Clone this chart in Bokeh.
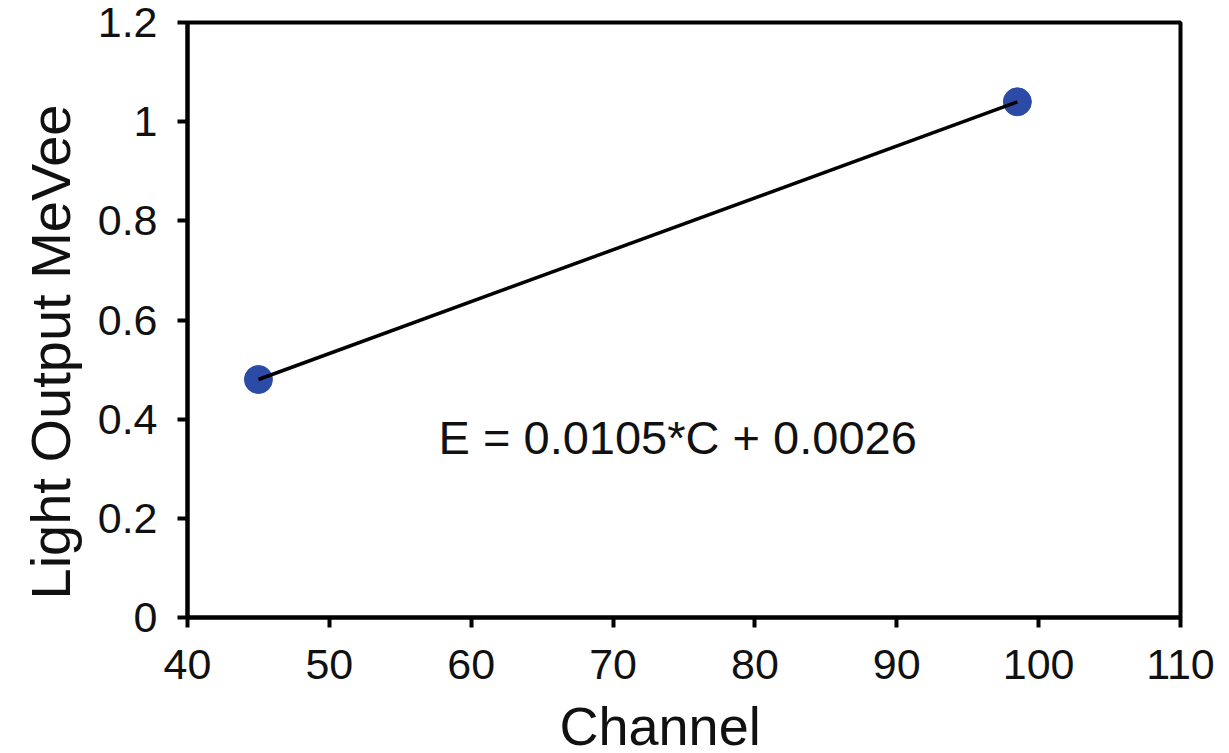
from bokeh.plotting import figure
from bokeh.models import Range1d, FixedTicker, Title
from bokeh.models import Label
from bokeh.embed import file_html
from bokeh.resources import INLINE

channels = [45.0, 98.5]
light_output = [0.48, 1.04]
x_ticks = [40, 50, 60, 70, 80, 90, 100, 110]
y_ticks = [0, 0.2, 0.4, 0.6, 0.8, 1.0, 1.2]
y_tick_labels = ["0", "0.2", "0.4", "0.6", "0.8", "1", "1.2"]
equation = "E = 0.0105*C + 0.0026"
x_title = "Channel"
y_title = "Light Output MeVee"

FONT = "Liberation Sans"
TXT = "#111111"

p = figure(width=1229, height=775, output_backend="svg", toolbar_location=None,
           x_range=Range1d(40, 110), y_range=Range1d(0, 1.2),
           min_border_left=187, min_border_right=49, min_border_top=22, min_border_bottom=158)
p.grid.visible = False
p.outline_line_color = "black"
p.outline_line_width = 4

p.xaxis.ticker = FixedTicker(ticks=x_ticks)
p.yaxis.ticker = FixedTicker(ticks=y_ticks)
p.yaxis.major_label_overrides = {t: l for t, l in zip(y_ticks, y_tick_labels)}

for ax in (p.xaxis[0], p.yaxis[0]):
    ax.axis_line_width = 4
    ax.axis_line_color = "black"
    ax.major_tick_line_width = 4
    ax.major_tick_line_color = "black"
    ax.major_tick_out = 10
    ax.major_tick_in = 0
    ax.minor_tick_line_color = None
    ax.major_label_text_font = FONT
    ax.major_label_text_font_size = "43px"
    ax.major_label_text_color = TXT

p.xaxis.major_label_standoff = 22
p.yaxis.major_label_standoff = 20

p.add_layout(Title(text=x_title, align="left", offset=372, standoff=24,
                   text_font=FONT, text_font_size="54px", text_font_style="normal",
                   text_color=TXT), "below")
p.add_layout(Title(text=y_title, align="left", offset=18, standoff=26,
                   text_font=FONT, text_font_size="56px", text_font_style="normal",
                   text_line_height=0.5, text_color=TXT), "left")

p.scatter(channels, light_output, size=28, color="#2c4ba6")
p.line(channels, light_output, line_color="black", line_width=3.5)

p.add_layout(Label(x=57.7, y=0.363, text=equation, text_font=FONT, text_font_size="47px",
                   text_baseline="middle", text_color=TXT))

open("out.html", "w").write(file_html(p, INLINE))
